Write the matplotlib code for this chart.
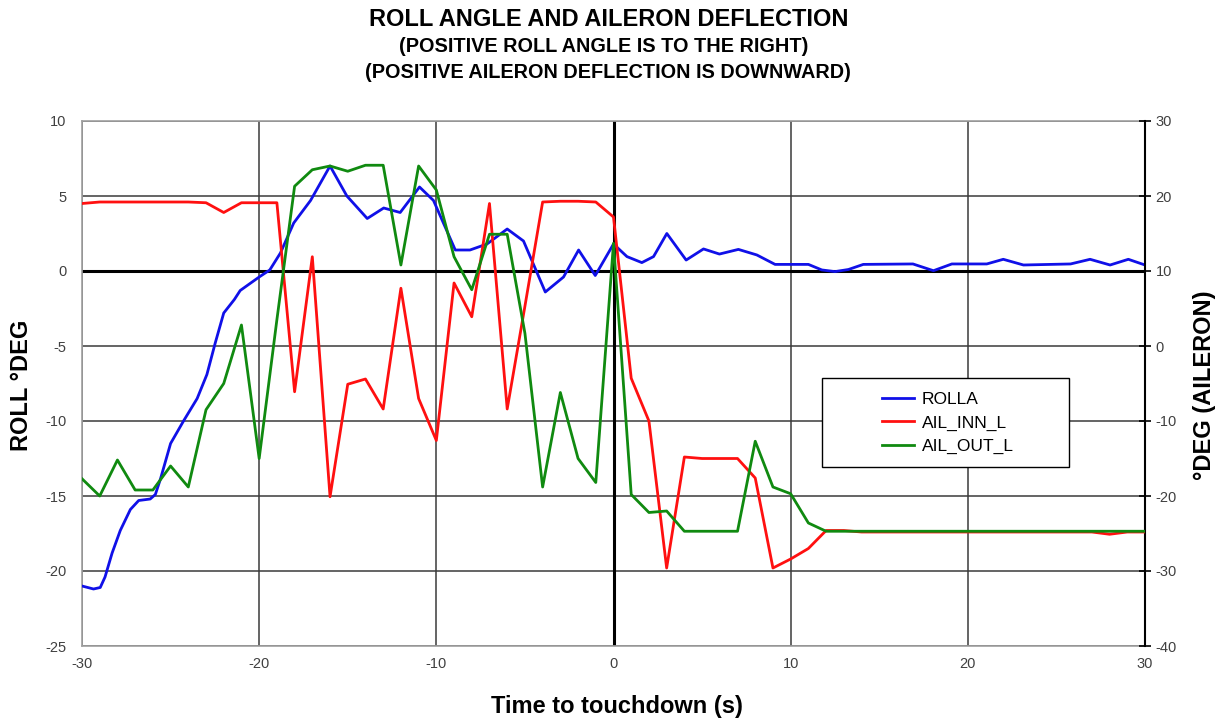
import matplotlib
matplotlib.use("Agg")
import matplotlib.pyplot as plt
from matplotlib.lines import Line2D
from matplotlib.patches import Rectangle

plt.rcParams['font.family'] = ['Liberation Sans', 'DejaVu Sans']
plt.rcParams['axes.unicode_minus'] = False

# ---- data ----
# ROLLA (left axis, deg)
roll_t = [-30, -29.35, -28.97, -28.7, -28.3, -27.84, -27.27, -26.8, -26.15, -25.86,
          -25.58, -25.0, -24.27, -23.5, -22.95, -22.48, -22.0, -21.4, -21.07, -20.0,
          -19.4, -18.8, -18.05, -17.1, -16.0, -15.05, -13.9, -12.97, -12.04, -10.95,
          -10.16, -8.93, -8.1, -7.14, -6.0, -5.08, -3.85, -2.82, -1.97, -1.03,
          0.0, 0.76, 1.6, 2.26, 3.01, 4.1, 5.08, 5.98, 7.05, 8.09,
          9.12, 10.07, 11.0, 11.76, 12.5, 13.26, 14.1, 16.9, 18.06, 19.1,
          20.13, 21.07, 22.0, 23.14, 25.8, 26.9, 28.03, 29.06, 30.0]
roll_v = [-21.0, -21.2, -21.1, -20.4, -18.8, -17.3, -15.9, -15.3, -15.2, -14.9,
          -13.9, -11.5, -10.0, -8.5, -6.9, -4.8, -2.8, -1.9, -1.3, -0.4,
          0.07, 1.2, 3.2, 4.7, 7.0, 5.0, 3.5, 4.2, 3.9, 5.6,
          4.7, 1.4, 1.4, 1.8, 2.8, 2.0, -1.4, -0.4, 1.4, -0.3,
          1.8, 0.96, 0.56, 0.96, 2.5, 0.73, 1.47, 1.13, 1.44, 1.07,
          0.44, 0.44, 0.44, 0.07, -0.04, 0.1, 0.44, 0.47, 0.02, 0.47,
          0.47, 0.47, 0.78, 0.4, 0.47, 0.78, 0.4, 0.78, 0.4]

# Ailerons (right axis, deg), 1 s samples
ail_t = list(range(-30, 31))
ail_inn = [19.0, 19.2, 19.2, 19.2, 19.2, 19.2, 19.2, 19.1, 17.8, 19.1,
           19.1, 19.1, -6.1, 11.9, -20.1, -5.1, -4.4, -8.4, 7.7, -7.0,
           -12.6, 8.4, 3.9, 19.0, -8.4, 5.3, 19.2, 19.3, 19.3, 19.2,
           17.2, -4.3, -10.0, -29.6, -14.8, -15.0, -15.0, -15.0, -17.6, -29.6,
           -28.4, -27.0, -24.6, -24.6, -24.8, -24.8, -24.8, -24.8, -24.8, -24.8,
           -24.8, -24.8, -24.8, -24.8, -24.8, -24.8, -24.8, -24.8, -25.1, -24.8,
           -24.8]
ail_out = [-17.7, -20.0, -15.2, -19.2, -19.2, -16.0, -18.8, -8.5, -5.0, 2.8,
           -15.0, 3.5, 21.3, 23.5, 24.0, 23.3, 24.1, 24.1, 10.8, 24.0,
           20.8, 11.9, 7.5, 14.9, 14.9, 1.7, -18.8, -6.2, -15.0, -18.2,
           13.7, -19.8, -22.2, -22.0, -24.7, -24.7, -24.7, -24.7, -12.7, -18.8,
           -19.7, -23.6, -24.7, -24.7, -24.7, -24.7, -24.7, -24.7, -24.7, -24.7,
           -24.7, -24.7, -24.7, -24.7, -24.7, -24.7, -24.7, -24.7, -24.7, -24.7,
           -24.7]

series_names = ['ROLLA', 'AIL_INN_L', 'AIL_OUT_L']
series_colors = ['#1010e8', '#ff1010', '#108a10']

x_ticks = [-30, -20, -10, 0, 10, 20, 30]
left_ticks = [10, 5, 0, -5, -10, -15, -20, -25]
right_ticks = [30, 20, 10, 0, -10, -20, -30, -40]

W, H = 1228, 722
# ---- figure ----
fig = plt.figure(figsize=(W/100, H/100), dpi=100)
ax = fig.add_axes([82/W, 1-646/H, (1145-82)/W, (646-121)/H])
ax2 = ax.twinx()

ax.set_xlim(-30, 30)
ax.set_ylim(-25, 10)
ax2.set_ylim(-40, 30)
ax.set_xticks(x_ticks)
ax.set_yticks(left_ticks)
ax2.set_yticks(right_ticks)

grid_c = '#3a3a3a'
for xv in x_ticks:
    ax.axvline(xv, color=grid_c, lw=1.1, zorder=1)
for yv in left_ticks:
    ax.axhline(yv, color=grid_c, lw=1.1, zorder=1)
ax.axhline(0, color='black', lw=2.2, zorder=1.5)
ax.axvline(0, color='black', lw=2.2, zorder=1.5)

for sp in ['left', 'top', 'bottom']:
    ax.spines[sp].set_color('#a0a0a0')
    ax.spines[sp].set_linewidth(1.2)
ax.spines['right'].set_visible(False)
for sp in ['left', 'top', 'bottom']:
    ax2.spines[sp].set_visible(False)
ax2.spines['right'].set_color('black')
ax2.spines['right'].set_linewidth(1.5)

tick_c = '#404040'
ax.tick_params(axis='y', length=0, labelsize=10.5, labelcolor=tick_c, pad=11)
ax.tick_params(axis='x', length=0, labelsize=10.5, labelcolor=tick_c, pad=8)
ax2.tick_params(axis='y', direction='inout', length=9, width=1.2, color='black',
                labelsize=10.5, labelcolor=tick_c, pad=3)

ax.plot(roll_t, roll_v, color=series_colors[0], lw=2.0, zorder=3, solid_joinstyle='round')
ax2.plot(ail_t, ail_inn, color=series_colors[1], lw=2.0, zorder=3)
ax2.plot(ail_t, ail_out, color=series_colors[2], lw=2.0, zorder=4)

# legend box
box = Rectangle((822/W, 1-467/H), (1069-822)/W, (467-378)/H, transform=fig.transFigure,
                facecolor='white', edgecolor='black', lw=1.0, zorder=10, clip_on=False)
ax2.add_patch(box)
handles = [Line2D([0], [0], color=c, lw=2.0) for c in series_colors]
leg = ax2.legend(handles, series_names, loc='center left',
                 bbox_to_anchor=(882/W, 1-423/H), bbox_transform=fig.transFigure,
                 frameon=False, fontsize=12.5, handlelength=1.85, borderpad=0,
                 labelspacing=0.48, handletextpad=0.45, borderaxespad=0)
leg.set_zorder(11)

fig.text(609/W, 1-19/H, 'ROLL ANGLE AND AILERON DEFLECTION', ha='center', va='center',
         fontsize=17, fontweight='bold')
fig.text(604/W, 1-47/H, '(POSITIVE ROLL ANGLE IS TO THE RIGHT)', ha='center', va='center',
         fontsize=14.3, fontweight='bold')
fig.text(608/W, 1-72/H, '(POSITIVE AILERON DEFLECTION IS DOWNWARD)', ha='center', va='center',
         fontsize=14.3, fontweight='bold')

fig.text(617/W, 1-706/H, 'Time to touchdown (s)', ha='center', va='center',
         fontsize=17, fontweight='bold')
fig.text(22/W, 1-385/H, 'ROLL °DEG', ha='center', va='center', rotation=90,
         fontsize=17, fontweight='bold')
fig.text(1205/W, 1-385/H, '°DEG (AILERON)', ha='center', va='center', rotation=90,
         fontsize=17, fontweight='bold')

fig.savefig('out.png', dpi=100)
